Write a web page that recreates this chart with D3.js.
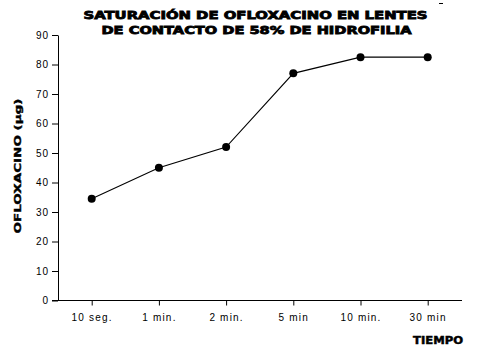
<!DOCTYPE html>
<html><head><meta charset="utf-8">
<script src="https://cdn.jsdelivr.net/npm/d3@7"></script>
<style>body{margin:0;background:#fff}svg{display:block}</style>
</head><body>
<script>
const categories = ["10 seg.", "1 min.", "2 min.", "5 min", "10 min.", "30 min"];
const values = [34.5, 45, 52, 77, 82.5, 82.5];
const yTicks = [0, 10, 20, 30, 40, 50, 60, 70, 80, 90];
const titleLines = ["SATURACIÓN DE OFLOXACINO EN LENTES", "DE CONTACTO DE 58% DE HIDROFILIA"];

const W = 480, H = 355;
const svg = d3.select("body").append("svg").attr("width", W).attr("height", H);

const x = d3.scalePoint().domain(categories).range([91.7, 427.7]);
const y = d3.scaleLinear().domain([0, 90]).range([300.5, 35]);

// title
const tl = [[255.5, 18.5, 344], [256.5, 33.5, 310]];
titleLines.forEach((t, i) => {
  svg.append("text").attr("x", tl[i][0]).attr("y", tl[i][1])
    .attr("text-anchor", "middle")
    .attr("font-family", "'DejaVu Sans', sans-serif").attr("font-weight", "bold")
    .attr("font-size", 10.5).attr("stroke", "#000").attr("stroke-width", 0.8)
    .attr("textLength", tl[i][2]).attr("lengthAdjust", "spacingAndGlyphs")
    .text(t);
});
svg.append("line").attr("x1", 439).attr("x2", 443).attr("y1", 3.5).attr("y2", 3.5).attr("stroke", "#000");

// y axis
const yAxis = svg.append("g").attr("transform", "translate(58,0)")
  .call(d3.axisLeft(y).tickValues(yTicks).tickSize(6).tickPadding(3).tickSizeOuter(0));
yAxis.selectAll("text").attr("font-family", "'Liberation Sans', Arial, sans-serif")
  .attr("font-size", 10).attr("letter-spacing", 1).attr("fill", "#000");

// x axis
const xAxis = svg.append("g").attr("transform", "translate(0,300.5)")
  .call(d3.axisBottom(x).tickSize(5).tickPadding(8).tickSizeOuter(0));
xAxis.select(".domain").attr("d", "M52,0H462");
xAxis.selectAll("text").attr("font-family", "'Liberation Sans', Arial, sans-serif")
  .attr("font-size", 10).attr("letter-spacing", 1.2).attr("fill", "#000");
svg.selectAll(".domain, .tick line").attr("stroke", "#000").attr("stroke-width", 1);

// axis titles
svg.append("text").attr("transform", "translate(21,166) rotate(-90)")
  .attr("text-anchor", "middle")
  .attr("font-family", "'DejaVu Sans', sans-serif").attr("font-weight", "bold")
  .attr("font-size", 9.5).attr("stroke", "#000").attr("stroke-width", 0.4)
  .attr("textLength", 135).attr("lengthAdjust", "spacingAndGlyphs")
  .text("OFLOXACINO  (µg)");
svg.append("text").attr("x", 438).attr("y", 344).attr("text-anchor", "middle")
  .attr("font-family", "'DejaVu Sans', sans-serif").attr("font-weight", "bold")
  .attr("font-size", 10.5).attr("stroke", "#000").attr("stroke-width", 0.5)
  .attr("textLength", 50).attr("lengthAdjust", "spacingAndGlyphs")
  .text("TIEMPO");

// line + markers
const line = d3.line().x((d, i) => x(categories[i])).y(d => y(d));
svg.append("path").datum(values).attr("d", line).attr("fill", "none")
  .attr("stroke", "#000").attr("stroke-width", 1.1);
svg.selectAll("circle.pt").data(values).enter().append("circle")
  .attr("class", "pt").attr("cx", (d, i) => x(categories[i])).attr("cy", d => y(d))
  .attr("r", 4).attr("fill", "#000");
</script>
</body></html>
